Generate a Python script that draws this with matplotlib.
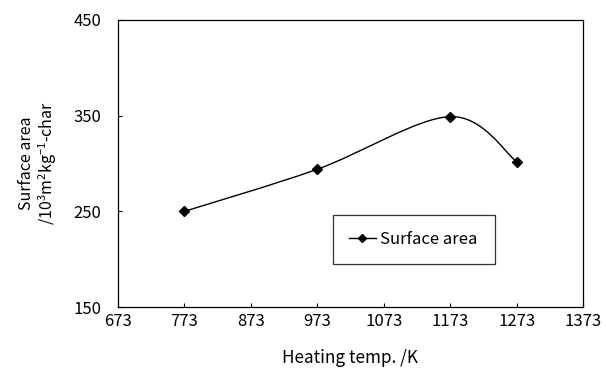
import numpy as np
import matplotlib
matplotlib.use("Agg")
import matplotlib.pyplot as plt
from matplotlib.path import Path
from matplotlib.patches import PathPatch
from matplotlib.lines import Line2D

# data
temps = [773, 973, 1173, 1273]
surface_area = [250, 294, 349, 302]
x_ticks = [673, 773, 873, 973, 1073, 1173, 1273, 1373]
y_ticks = [150, 250, 350, 450]

plt.rcParams['font.family'] = ['Noto Sans CJK JP', 'DejaVu Sans']
plt.rcParams['mathtext.fontset'] = 'custom'
plt.rcParams['mathtext.rm'] = 'Noto Sans CJK JP'
plt.rcParams['mathtext.it'] = 'Noto Sans CJK JP'

fig = plt.figure(figsize=(6.06, 3.76), dpi=100)
ax = fig.add_axes([118 / 606, 69 / 376, 465 / 606, 287 / 376])


def smooth_path(xs, ys):
    # Excel-like smoothed line: Catmull-Rom segments as cubic Bezier curves
    pts = np.column_stack([xs, ys]).astype(float)
    n = len(pts)
    verts = [pts[0]]
    codes = [Path.MOVETO]
    for i in range(n - 1):
        p0 = pts[i - 1] if i > 0 else pts[i]
        p1 = pts[i]
        p2 = pts[i + 1]
        p3 = pts[i + 2] if i + 2 < n else pts[i + 1]
        c1 = p1 + (p2 - p0) / 6.0
        c2 = p2 - (p3 - p1) / 6.0
        verts += [c1, c2, p2]
        codes += [Path.CURVE4] * 3
    return Path(verts, codes)


ax.add_patch(PathPatch(smooth_path(temps, surface_area), facecolor='none',
                       edgecolor='black', lw=1.0))
ax.plot(temps, surface_area, linestyle='none', marker='D', markersize=5,
        color='black')

ax.set_xlim(673, 1373)
ax.set_ylim(150, 450)
ax.set_xticks(x_ticks)
ax.set_yticks(y_ticks)
ax.tick_params(direction='in', length=3, width=0.8, labelsize=12)
ax.tick_params(axis='x', pad=4)
ax.tick_params(axis='y', pad=12)
for s in ax.spines.values():
    s.set_linewidth(0.9)

ax.set_xlabel('Heating temp. /K', fontsize=12.3, labelpad=14)
ax.set_ylabel('Surface area\n/10$^3$m$^2$kg$^{-1}$-char', fontsize=11.5,
              labelpad=10, linespacing=1.1)

handle = Line2D([], [], color='black', lw=1.0, marker='D', markersize=4)
leg = ax.legend([handle], ['Surface area'], loc='upper left',
                bbox_to_anchor=(215 / 465, 44 / 287, 162 / 465, 48 / 287),
                mode='expand', fancybox=False, fontsize=12, handlelength=1.6,
                handletextpad=0.3, borderaxespad=0, borderpad=0.95)
leg.get_frame().set_edgecolor('black')
leg.get_frame().set_linewidth(0.9)

fig.savefig('out.png', dpi=100)
